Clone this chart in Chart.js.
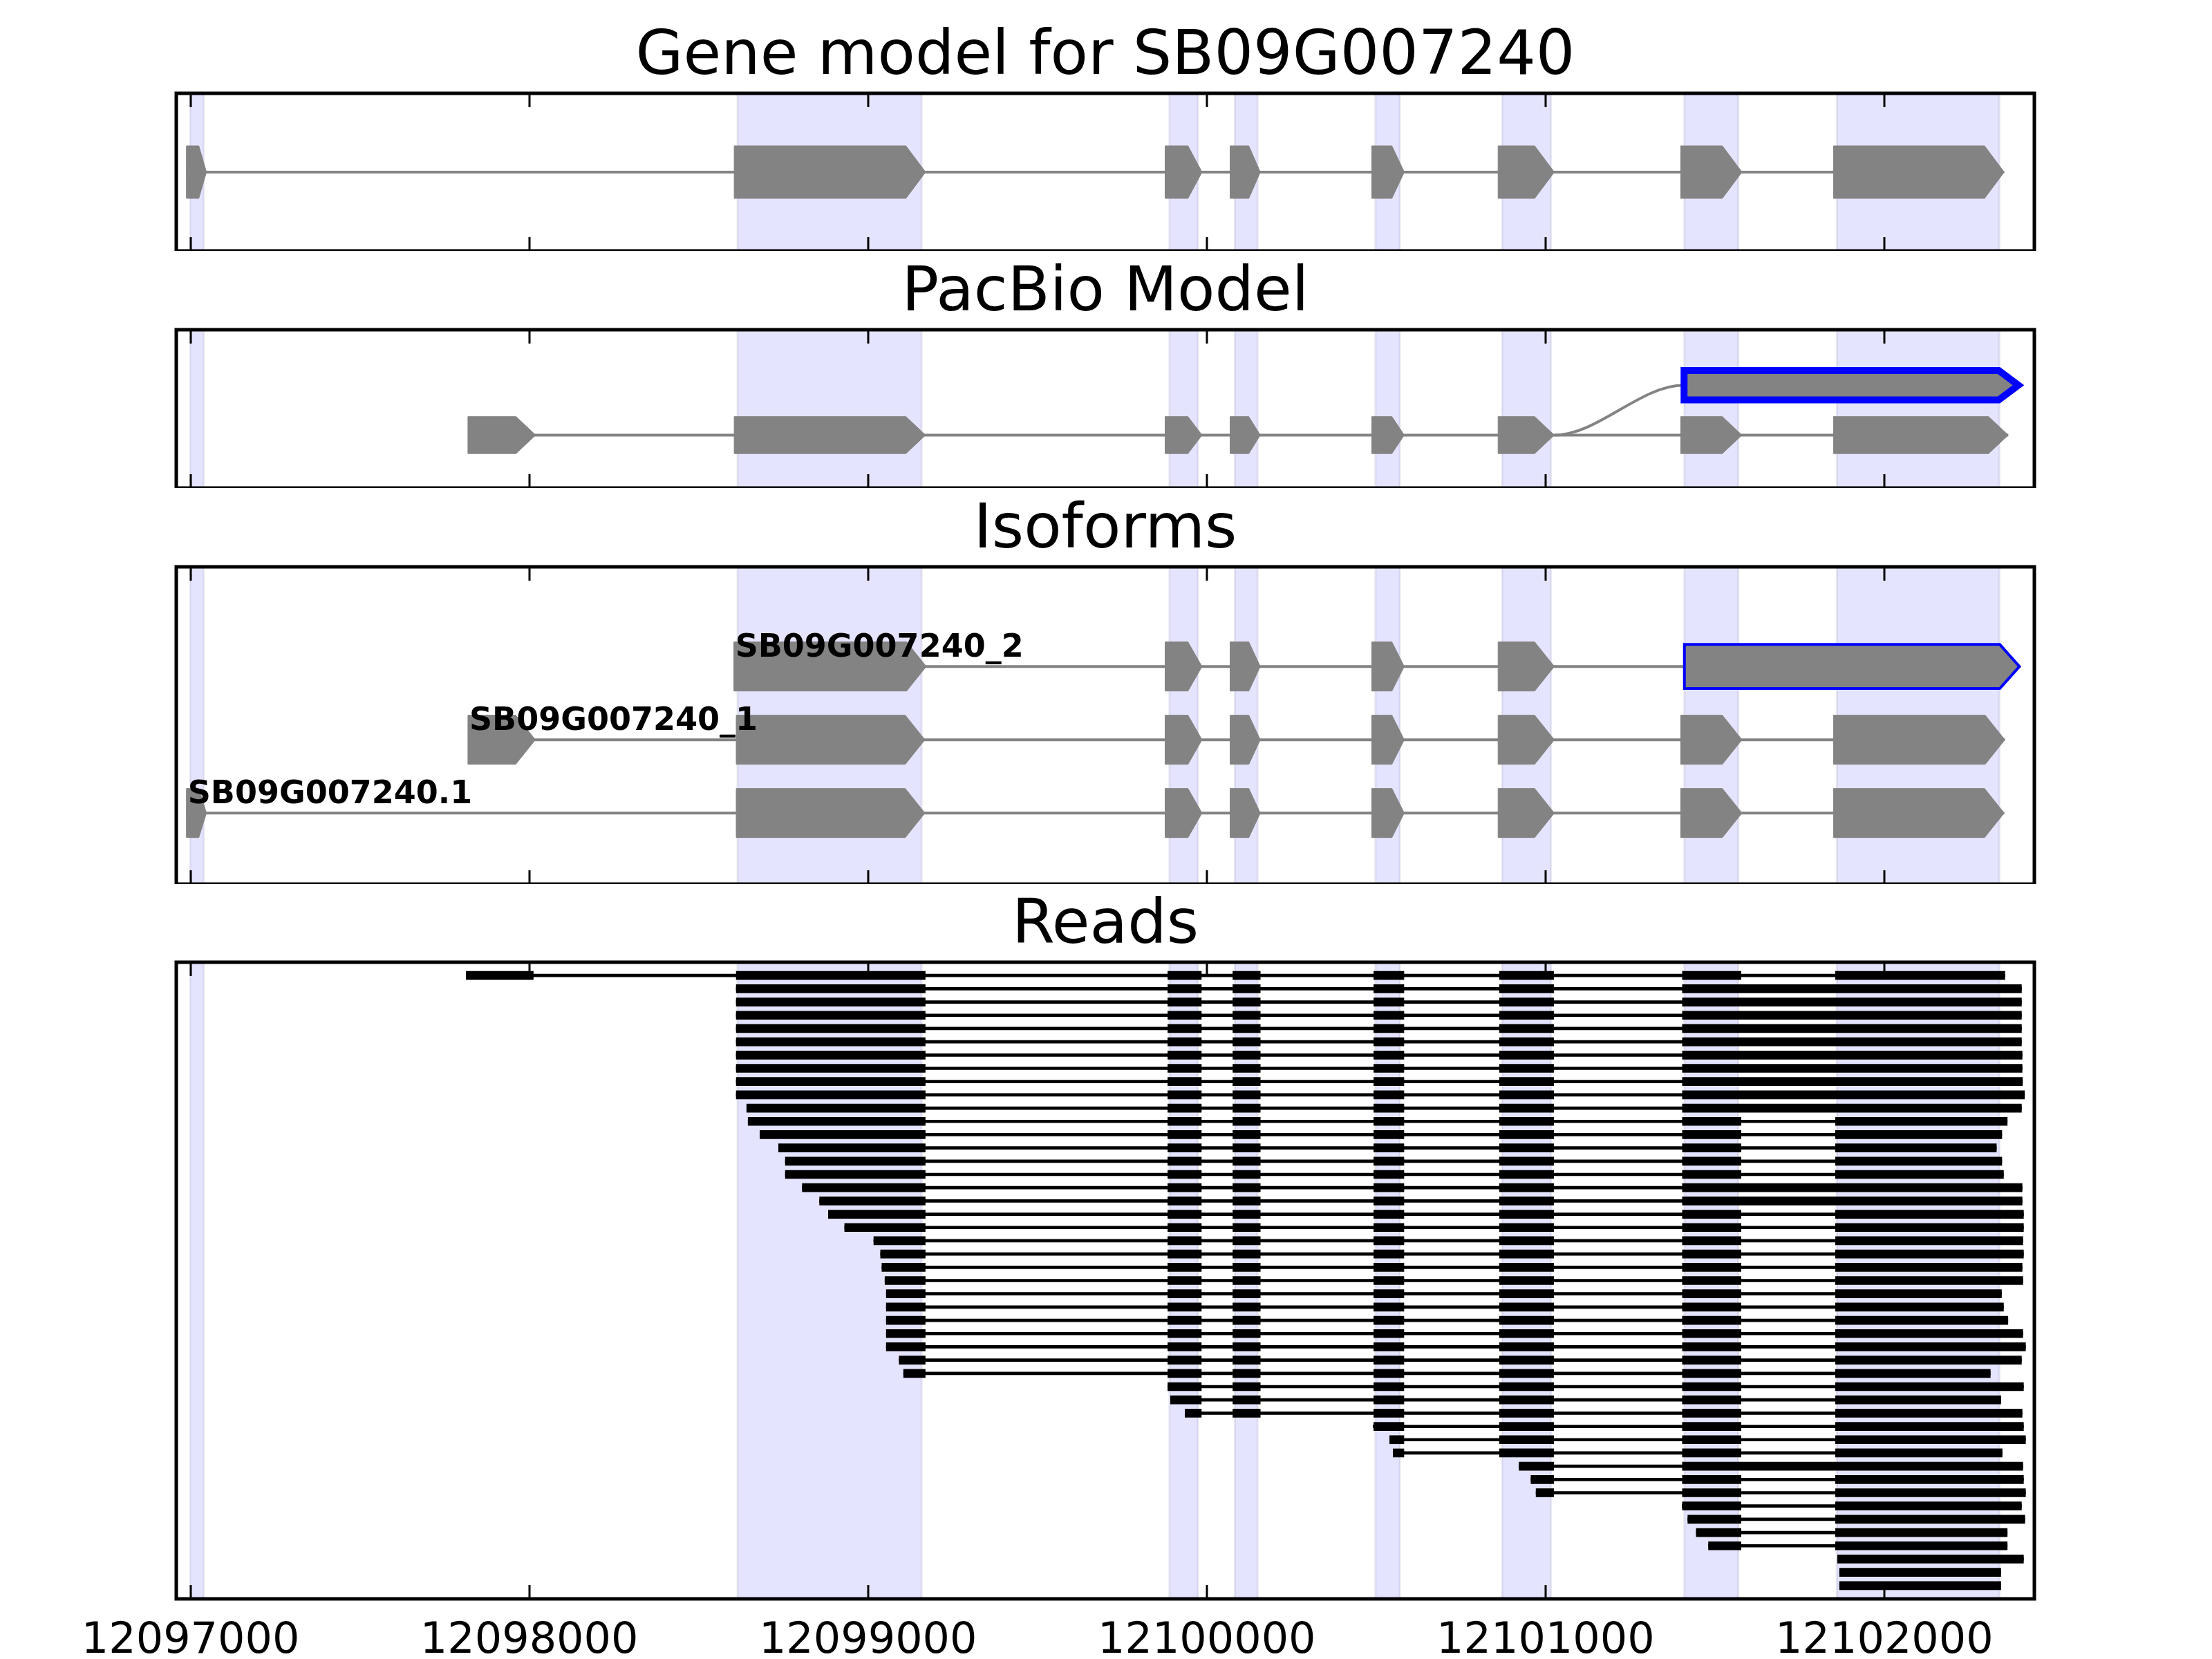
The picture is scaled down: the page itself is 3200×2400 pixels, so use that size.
<!DOCTYPE html>
<html><head><meta charset="utf-8">
<script src="https://cdn.jsdelivr.net/npm/chart.js@4.4.1/dist/chart.umd.min.js"></script>
<style>
html,body{margin:0;padding:0;background:#fff;width:3200px;height:2400px;overflow:hidden;}
.panel{position:absolute;left:0;width:3200px;}
</style></head><body>
<div class="panel" style="top:35px;height:328px"><canvas id="c1"></canvas></div>
<div class="panel" style="top:377px;height:329px"><canvas id="c2"></canvas></div>
<div class="panel" style="top:720px;height:559px"><canvas id="c3"></canvas></div>
<div class="panel" style="top:1292px;height:1108px"><canvas id="c4"></canvas></div>
<script>
// ---------------- data ----------------
const xMin = 12096958, xMax = 12102443;
const tickValues = [12097000, 12098000, 12099000, 12100000, 12101000, 12102000];
const titles = ['Gene model for SB09G007240', 'PacBio Model', 'Isoforms', 'Reads'];

// shaded exon spans
const shadeStarts = [12096999, 12098615, 12099890, 12100083, 12100498, 12100872, 12101410, 12101860];
const shadeEnds   = [12097039, 12099158, 12099974, 12100150, 12100570, 12101016, 12101569, 12102340];

// gene model exons
const geneStarts = [12096988, 12098605, 12099877, 12100069, 12100487, 12100860, 12101399, 12101850];
const geneEnds   = [12097047, 12099170, 12099986, 12100158, 12100583, 12101026, 12101580, 12102354];

// PacBio model (row 0) and novel retained-intron transcript (row 1)
const pacbioStarts = [12097819, 12098605, 12099877, 12100069, 12100487, 12100860, 12101399, 12101850];
const pacbioEnds   = [12098019, 12099170, 12099986, 12100158, 12100583, 12101026, 12101580, 12102366];
const pacbioNovelStart = 12101409, pacbioNovelEnd = 12102396;

// isoforms (row 0 bottom .. row 2 top)
const isoNames = ['SB09G007240.1', 'SB09G007240_1', 'SB09G007240_2'];
const iso1Starts = [12096988, 12098611, 12099877, 12100069, 12100487, 12100860, 12101399, 12101850];
const iso1Ends   = [12097047, 12099168, 12099986, 12100158, 12100583, 12101026, 12101580, 12102354];
const iso2Starts = [12097819, 12098611, 12099877, 12100069, 12100487, 12100860, 12101399, 12101850];
const iso2Ends   = [12098018, 12099168, 12099986, 12100158, 12100583, 12101026, 12101580, 12102356];
const iso3Starts = [12098604, 12099877, 12100069, 12100487, 12100860];
const iso3Ends   = [12099172, 12099986, 12100158, 12100583, 12101026];
const iso3NovelStart = 12101410, iso3NovelEnd = 12102399;

// reads
const readExonStarts = [12097814, 12098611, 12099885, 12100077, 12100493, 12100864, 12101404, 12101856];
const readExonEnds   = [12098012, 12099169, 12099984, 12100158, 12100582, 12101024, 12101577, 12102420];
const readStarts = [12097814,
  12098611, 12098611, 12098611, 12098611, 12098611, 12098611, 12098611, 12098611, 12098611,
  12098642, 12098646, 12098681, 12098736, 12098756, 12098756, 12098806, 12098857, 12098883, 12098931,
  12099017, 12099037, 12099041, 12099050, 12099054, 12099054, 12099054, 12099054, 12099054, 12099092,
  12099105, 12099885, 12099893, 12099936, 12100491, 12100540, 12100550, 12100922, 12100957, 12100972,
  12101403, 12101420, 12101445, 12101481, 12101862, 12101868, 12101868];
const readEnds = [12102356,
  12102405, 12102405, 12102405, 12102405, 12102405, 12102407, 12102407, 12102408, 12102414,
  12102405, 12102363, 12102347, 12102331, 12102347, 12102352, 12102407, 12102407, 12102411, 12102411,
  12102409, 12102411, 12102407, 12102409, 12102346, 12102352, 12102365, 12102409, 12102417, 12102405,
  12102313, 12102411, 12102344, 12102407, 12102411, 12102417, 12102348, 12102409, 12102411, 12102417,
  12102405, 12102415, 12102363, 12102363, 12102411, 12102344, 12102344];
const retainedReads = [1, 2, 3, 4, 5, 6, 7, 8, 9, 10, 16, 17, 37];

// ---------------- styling helpers ----------------
const GRAY = '#838383';
const FONT = 'DejaVu Sans';
const HEAD = 58;

function arrowPts(s, e, y, h, closeExtra) {
  const hl = Math.min((e - s) * 0.38, HEAD);
  const m = e - hl;
  const pts = [{x: s, y: y + h / 2}, {x: m, y: y + h / 2}, {x: e, y: y}, {x: m, y: y - h / 2}, {x: s, y: y - h / 2}, {x: s, y: y + h / 2}];
  if (closeExtra) pts.push({x: m, y: y + h / 2});
  return pts;
}
function exonSet(s, e, y, h) {
  return {type: 'scatter', data: arrowPts(s, e, y, h, false), showLine: true, fill: 'shape',
    backgroundColor: GRAY, borderColor: GRAY, borderWidth: 1, pointRadius: 0, tension: 0, order: 1};
}
function novelSet(s, e, y, h, bw) {
  return {type: 'scatter', data: arrowPts(s, e, y, h, true), showLine: true, fill: 'shape',
    backgroundColor: GRAY, borderColor: '#0000ff', borderWidth: bw, borderJoinStyle: 'miter',
    pointRadius: 0, tension: 0, order: 0};
}
function intronSet(x0, x1, y) {
  return {type: 'scatter', data: [{x: x0, y: y}, {x: x1, y: y}], showLine: true, fill: false,
    borderColor: GRAY, borderWidth: 4, pointRadius: 0, tension: 0, order: 5};
}

const decor = {
  id: 'decor',
  beforeDatasetsDraw(chart) {
    const {ctx, chartArea: a, scales: {x}} = chart;
    ctx.save();
    for (let i = 0; i < shadeStarts.length; i++) {
      const x0 = x.getPixelForValue(shadeStarts[i]), x1 = x.getPixelForValue(shadeEnds[i]);
      ctx.fillStyle = 'rgba(0,0,255,0.105)';
      ctx.fillRect(x0, a.top, x1 - x0, a.bottom - a.top);
      ctx.strokeStyle = 'rgba(90,90,140,0.13)';
      ctx.lineWidth = 3;
      ctx.beginPath();
      ctx.moveTo(x0, a.top); ctx.lineTo(x0, a.bottom);
      ctx.moveTo(x1, a.top); ctx.lineTo(x1, a.bottom);
      ctx.stroke();
    }
    ctx.restore();
  },
  afterDraw(chart) {
    const {ctx, chartArea: a, scales: {x}} = chart;
    ctx.save();
    ctx.strokeStyle = '#000';
    ctx.lineWidth = 3;
    ctx.beginPath();
    x.ticks.forEach(t => {
      const px = Math.round(x.getPixelForValue(t.value));
      ctx.moveTo(px, a.top); ctx.lineTo(px, a.top + 20);
      ctx.moveTo(px, a.bottom); ctx.lineTo(px, a.bottom - 20);
    });
    ctx.stroke();
    ctx.lineWidth = 5;
    ctx.strokeRect(a.left, a.top, a.right - a.left, a.bottom - a.top);
    ctx.restore();
  }
};

const isoLabels = {
  id: 'isoLabels',
  afterDatasetsDraw(chart) {
    const {ctx, scales: {x, y}} = chart;
    const starts = [iso1Starts[0], iso2Starts[0], iso3Starts[0]];
    ctx.save();
    ctx.font = 'bold 46px "' + FONT + '"';
    ctx.fillStyle = '#000';
    ctx.textAlign = 'left';
    ctx.textBaseline = 'alphabetic';
    isoNames.forEach((n, i) => ctx.fillText(n, x.getPixelForValue(starts[i]) + 2, y.getPixelForValue(i + 0.135)));
    ctx.restore();
  }
};

function baseOptions(title, yMin, yMax, showLabels, reverse) {
  return {
    responsive: true, maintainAspectRatio: false, devicePixelRatio: 1,
    animation: false, events: [],
    layout: {padding: {left: 255, right: 257, top: 0, bottom: 0}},
    plugins: {
      legend: {display: false}, tooltip: {enabled: false},
      title: {display: true, text: title, color: '#000',
        font: {family: FONT, size: 89, weight: 'normal', lineHeight: 1.1}, padding: {top: 0, bottom: 2.1}}
    },
    scales: {
      x: {type: 'linear', min: xMin, max: xMax, offset: false,
        afterBuildTicks: s => { s.ticks = tickValues.map(v => ({value: v})); },
        afterFit: s => { s.height = showLabels ? 87 : 0; },
        grid: {display: false, drawTicks: false}, border: {display: false},
        ticks: {display: showLabels, color: '#000', font: {family: FONT, size: 62}, padding: 25,
          maxRotation: 0, autoSkip: false, callback: v => String(v)}},
      y: {type: 'linear', min: yMin, max: yMax, reverse: !!reverse, display: false, offset: false}
    }
  };
}

// ---------------- panel 1: gene model ----------------
const p1 = [intronSet(geneStarts[0], geneEnds[geneEnds.length - 1], 0)];
geneStarts.forEach((s, i) => p1.push(exonSet(s, geneEnds[i], 0, 1.0)));
new Chart(document.getElementById('c1'), {type: 'scatter', data: {datasets: p1},
  options: baseOptions(titles[0], -1.5, 1.5, false), plugins: [decor]});

// ---------------- panel 2: PacBio model ----------------
const p2 = [intronSet(pacbioStarts[0], pacbioEnds[pacbioEnds.length - 1], 0)];
pacbioStarts.forEach((s, i) => p2.push(exonSet(s, pacbioEnds[i], 0, 0.74)));
p2.push(novelSet(pacbioNovelStart, pacbioNovelEnd, 1, 0.59, 10));
p2.push({type: 'scatter', data: [{x: pacbioEnds[5], y: 0}, {x: pacbioEnds[5] + 1, y: 0}, {x: pacbioNovelStart - 1, y: 1}, {x: pacbioNovelStart, y: 1}],
  showLine: true, cubicInterpolationMode: 'monotone', fill: false, borderColor: GRAY, borderWidth: 4, pointRadius: 0, order: 5});
new Chart(document.getElementById('c2'), {type: 'scatter', data: {datasets: p2},
  options: baseOptions(titles[1], -1.06, 2.11, false), plugins: [decor]});

// ---------------- panel 3: isoforms ----------------
const p3 = [];
p3.push(intronSet(iso1Starts[0], iso1Ends[iso1Ends.length - 1], 0));
iso1Starts.forEach((s, i) => p3.push(exonSet(s, iso1Ends[i], 0, 0.67)));
p3.push(intronSet(iso2Starts[0], iso2Ends[iso2Ends.length - 1], 1));
iso2Starts.forEach((s, i) => p3.push(exonSet(s, iso2Ends[i], 1, 0.67)));
p3.push(intronSet(iso3Starts[0], iso3NovelStart, 2));
iso3Starts.forEach((s, i) => p3.push(exonSet(s, iso3Ends[i], 2, 0.67)));
p3.push(novelSet(iso3NovelStart, iso3NovelEnd, 2, 0.6, 4));
new Chart(document.getElementById('c3'), {type: 'scatter', data: {datasets: p3},
  options: baseOptions(titles[2], -0.97, 3.36, false), plugins: [decor, isoLabels]});

// ---------------- panel 4: reads ----------------
const readSets = [{label: 'span', data: readStarts.map((s, i) => ({x: [s, readEnds[i]], y: i})),
  backgroundColor: '#000', borderWidth: 0, barThickness: 4, grouped: false, order: 1}];
readExonStarts.forEach((es, k) => {
  const data = [];
  readStarts.forEach((s, i) => {
    let a = Math.max(s, es), b = Math.min(readEnds[i], readExonEnds[k]);
    if (retainedReads.includes(i)) {
      if (k === 7) return;
      if (k === 6) b = readEnds[i];
    }
    if (a < b) data.push({x: [a, b], y: i});
  });
  readSets.push({label: 'exon' + (k + 1), data: data, backgroundColor: '#000', borderWidth: 0,
    barThickness: 12, grouped: false, order: 0});
});
const o4 = baseOptions(titles[3], -1, 47, true, true);
o4.indexAxis = 'y';
new Chart(document.getElementById('c4'), {type: 'bar', data: {datasets: readSets},
  options: o4, plugins: [decor]});
</script>
</body></html>
